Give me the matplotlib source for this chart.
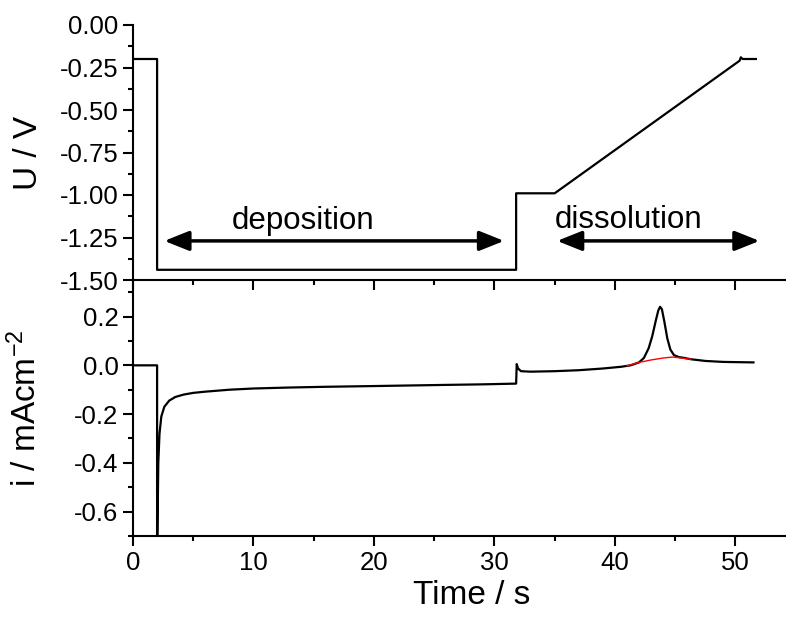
import matplotlib
matplotlib.use("Agg")
import matplotlib.pyplot as plt
from matplotlib.ticker import MultipleLocator

plt.rcParams['font.family'] = ['Liberation Sans', 'DejaVu Sans']
plt.rcParams['mathtext.default'] = 'regular'
plt.rcParams['axes.unicode_minus'] = False

# potential program (s, V)
t_u = [0, 2.0, 2.0, 31.8, 31.8, 35.0, 50.35, 50.45, 50.6, 51.7]
u = [-0.20, -0.20, -1.44, -1.44, -0.99, -0.99, -0.21, -0.19, -0.20, -0.20]

# measured current density (s, mA/cm2)
t_i = [0, 2.0, 2.0, 2.05, 2.1, 2.2, 2.35, 2.6, 3.0, 3.5, 4.2, 5.0, 6.0,
       8.0, 10, 13, 16, 20, 25, 29, 31.8, 31.85, 31.95, 32.2, 33, 35, 37,
       39, 40.5, 41.3, 42.0, 42.4, 42.8, 43.1, 43.4, 43.6, 43.75, 43.9,
       44.1, 44.35, 44.6, 44.9, 45.3, 45.8, 46.3, 47.5, 49, 51.5]
i_cur = [0, 0, -0.80, -0.60, -0.40, -0.28, -0.21, -0.17, -0.145, -0.13,
         -0.12, -0.113, -0.108, -0.100, -0.095, -0.091, -0.088, -0.085,
         -0.081, -0.078, -0.075, 0.005, -0.012, -0.024, -0.026, -0.024,
         -0.020, -0.013, -0.006, 0.000, 0.012, 0.030, 0.070, 0.120, 0.185,
         0.225, 0.240, 0.230, 0.180, 0.110, 0.065, 0.042, 0.034, 0.030,
         0.025, 0.018, 0.014, 0.012]

# baseline under the stripping peak
t_base = [41.0, 42.0, 43.0, 44.0, 44.8, 45.5, 46.3]
i_base = [-0.002, 0.012, 0.022, 0.030, 0.034, 0.030, 0.025]

W, H = 786, 620
fig = plt.figure(figsize=(W / 100, H / 100), dpi=100)
left = 133 / W
ax2 = fig.add_axes([left, 1 - 536 / H, 1 - left, 256 / H])
ax1 = fig.add_axes([left, 1 - 280 / H, 1 - left, 255 / H], sharex=ax2)
for ax in (ax1, ax2):
    ax.patch.set_visible(False)

ax1.plot(t_u, u, color='k', lw=1.6)
ax2.plot(t_i, i_cur, color='k', lw=1.6)
ax2.plot(t_base, i_base, color='red', lw=1.0)

ax1.set_xlim(0, 54.2)
ax1.set_ylim(-1.5, 0.0)
ax2.set_ylim(-0.7, 0.35)

for ax in (ax1, ax2):
    ax.spines['top'].set_visible(False)
    ax.spines['right'].set_visible(False)
    for s in ('left', 'bottom'):
        ax.spines[s].set_linewidth(1.5)
    ax.xaxis.set_major_locator(MultipleLocator(10))
    ax.xaxis.set_minor_locator(MultipleLocator(5))
    ax.tick_params(which='major', direction='out', length=7, width=1.5,
                   labelsize=18.5)
    ax.tick_params(which='minor', direction='out', length=3.5, width=1.5)

ax1.yaxis.set_major_locator(MultipleLocator(0.25))
ax1.yaxis.set_minor_locator(MultipleLocator(0.125))
ax1.yaxis.set_major_formatter(plt.FormatStrFormatter('%.2f'))
ax1.tick_params(axis='x', labelbottom=False)
ax2.yaxis.set_major_locator(MultipleLocator(0.2))
ax2.yaxis.set_minor_locator(MultipleLocator(0.1))
ax2.yaxis.set_major_formatter(plt.FormatStrFormatter('%.1f'))

ax1.set_ylabel('U / V', fontsize=24)
ax2.set_ylabel('i / mAcm$^{-2}$', fontsize=24)
ax1.yaxis.set_label_coords(-0.137, 0.5)
ax2.yaxis.set_label_coords(-0.137, 0.5)
ax2.set_xlabel('Time / s', fontsize=24)
ax2.xaxis.set_label_coords(0.519, -0.17)

# phase annotations
arrow = dict(arrowstyle='<|-|>,head_length=0.75,head_width=0.3',
             mutation_scale=20, lw=2.5, color='k', shrinkA=0, shrinkB=0)
ax1.annotate('', xy=(30.8, -1.27), xytext=(2.6, -1.27), arrowprops=arrow)
ax1.annotate('', xy=(52.0, -1.27), xytext=(35.2, -1.27), arrowprops=arrow)
ax1.text(14.1, -1.15, 'deposition', fontsize=22.5, ha='center', va='center')
ax1.text(41.1, -1.15, 'dissolution', fontsize=22.5, ha='center', va='center')

fig.savefig('out.png', dpi=100)
